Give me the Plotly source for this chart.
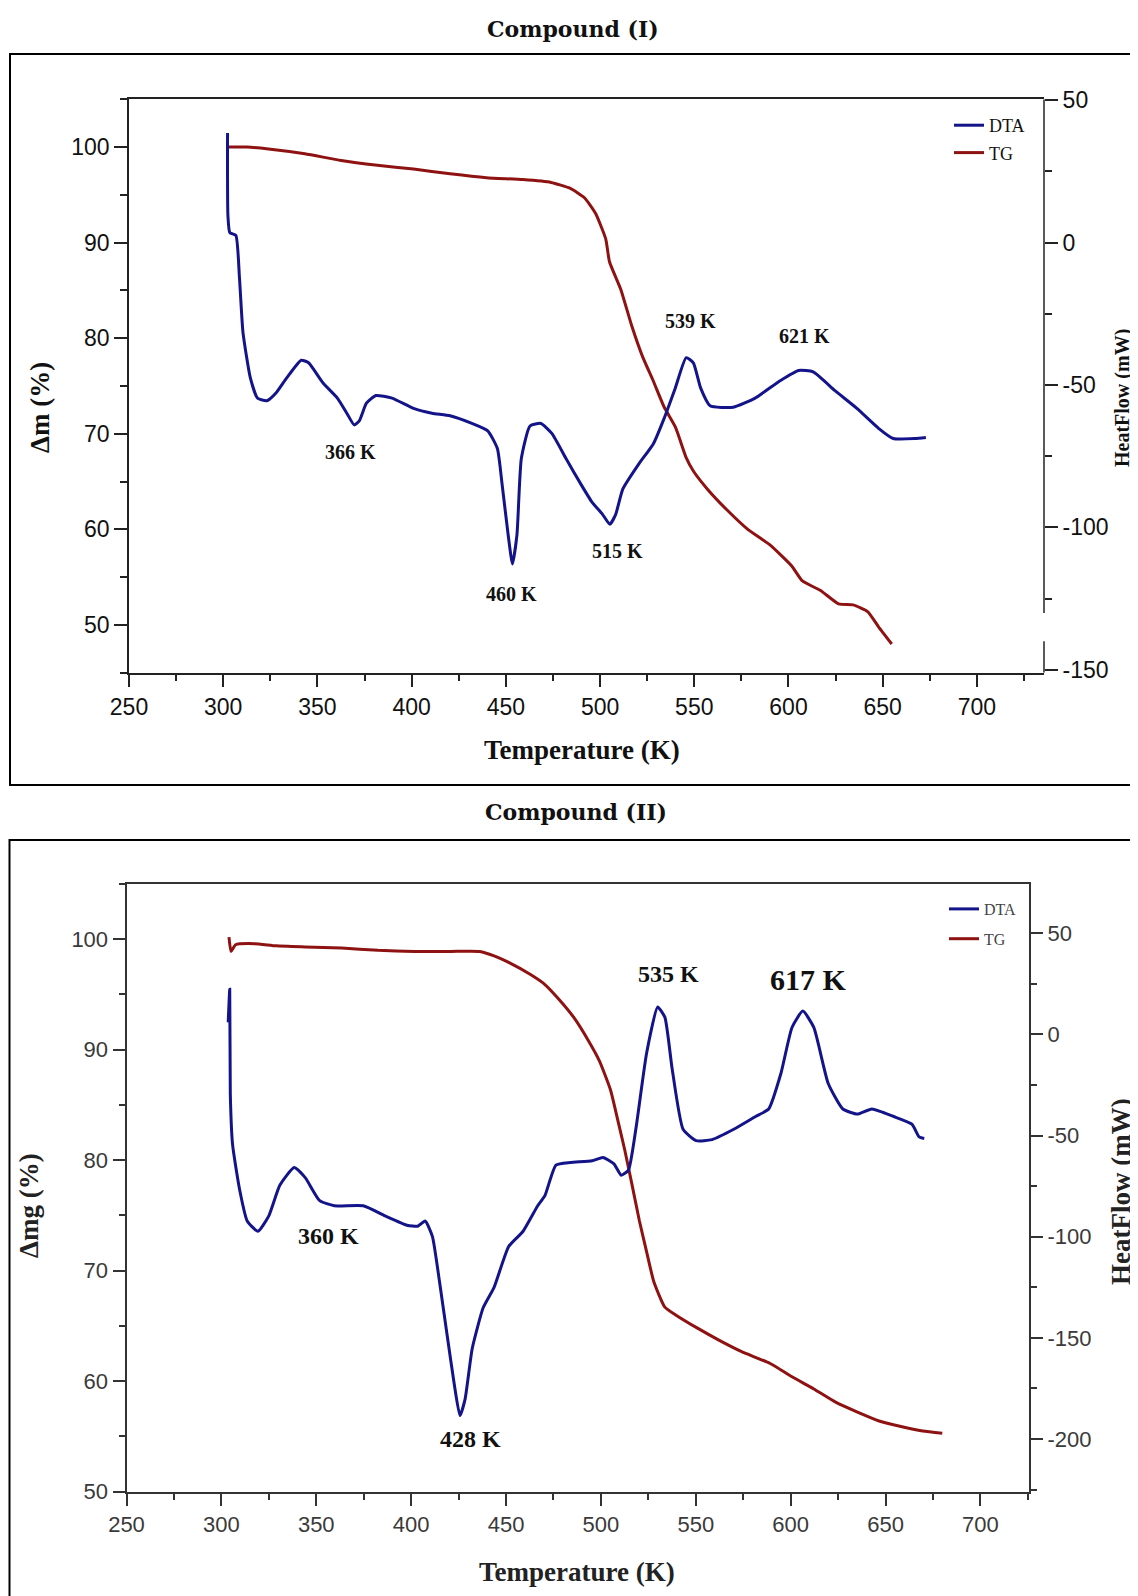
import plotly.graph_objects as go

# ---------------- Compound (I) ----------------
tg1_T = [302, 312.5, 324, 343.3, 362.6, 381.8, 401, 420.4, 439.7, 459, 474, 484, 491.7, 497.5,
         503, 505, 511, 516.8, 522.5, 528.3, 534, 540, 545.7, 549.5, 557, 567, 578.4, 590,
         601.6, 607.4, 617, 626.6, 634.3, 642, 647.8, 654.8]
tg1_m = [100, 100, 99.8, 99.3, 98.6, 98.1, 97.7, 97.2, 96.8, 96.6, 96.3, 95.7, 94.7, 93.1,
         90.4, 88.0, 85.1, 81.3, 78.1, 75.5, 72.8, 70.7, 67.5, 66.1, 64.2, 62.1, 60.0, 58.4,
         56.2, 54.6, 53.6, 52.2, 52.1, 51.4, 49.8, 48.0]

dta1_T = [302.3, 302.5, 303.5, 306.7, 308.6, 310.5, 314.4, 318.2, 323.2, 328, 333.7, 341.4,
          345.3, 353, 360.6, 365.6, 369.5, 372.2, 376, 381, 389.6, 401, 410.8, 420.4, 432,
          440.4, 445.5, 448, 451.2, 453.5, 455.9, 458.2, 462.8, 468.6, 474.4, 482, 489.8,
          495.6, 501.3, 505.2, 508.3, 512.1, 520.6, 528.3, 534, 539.9, 545.7, 549.5, 553.4,
          558.4, 570.7, 582.3, 595.8, 605.4, 613.1, 624.7, 636.3, 647.8, 655.6, 667.1, 672.9]
dta1_h = [38.5, 9.5, 3.5, 2.5, -12.1, -31.6, -47.5, -54.6, -55.5, -52.8, -47.5, -41.3,
          -42.2, -49.3, -54.6, -59.9, -64.0, -62.6, -56.4, -53.7, -54.6, -58.2, -59.9, -60.8, -63.5,
          -66.1, -72.3, -84.8, -102.5, -112.8, -102.5, -75.9, -64.4, -63.5, -67.0, -75.9, -84.8,
          -91.0, -95.4, -98.9, -95.4, -86.5, -77.7, -70.6, -61.7, -51.1, -40.4, -42.2, -51.1,
          -57.3, -57.8, -54.6, -48.4, -44.9, -45.4, -52.0, -58.2, -65.2, -68.8, -68.8, -68.4]

peak1_text = ["366 K", "460 K", "515 K", "539 K", "621 K"]
peak1_T = [367.6, 452.9, 509.5, 548.1, 608.6]
peak1_h = [-73.5, -123.5, -108.4, -27.5, -32.8]

# ---------------- Compound (II) ----------------
tg2_T = [304, 305.1, 307.5, 317.4, 328.9, 344.2, 363.3, 382.5, 401.6, 420.8, 436.1, 443.7,
         451.4, 462.9, 470.5, 478.2, 485.8, 493.5, 499.2, 505, 508.8, 512.6, 516.5, 520.3,
         524.1, 527.9, 533.7, 539.4, 550.9, 562.4, 573.9, 589.2, 600.7, 612.2, 623.7, 635.2,
         646.6, 658.1, 669.6, 679.9]
tg2_m = [100.2, 98.9, 99.5, 99.6, 99.4, 99.3, 99.2, 99.0, 98.9, 98.9, 98.9, 98.5,
         97.9, 96.8, 95.9, 94.5, 92.9, 90.8, 89.0, 86.4, 83.7, 80.9, 77.7, 74.5,
         71.7, 69.0, 66.7, 66.0, 64.8, 63.7, 62.7, 61.6, 60.4, 59.3, 58.1, 57.2,
         56.4, 55.9, 55.5, 55.3]

dta2_T = [303.6, 304.4, 304.7, 305.9, 309.7, 313.6, 319.3, 325, 330.8, 338.4, 344.2, 351.8,
          359.5, 374.8, 386.3, 397.8, 403.5, 407.4, 411.2, 415, 418.8, 422.7, 425.7, 428.4,
          432.2, 438, 443.7, 451.4, 459, 466.7, 470.5, 476.3, 483.9, 495.4, 501.1, 506.9,
          510.7, 514.5, 518.4, 524.1, 529.9, 533.7, 537.5, 543.3, 550.2, 558.6, 570, 581.5,
          588.4, 594.9, 600.7, 606.4, 612.2, 619.8, 627.5, 635.2, 642.8, 654.3, 663.9, 667.7,
          670.4]
dta2_h = [5.9, 22.3, -29.3, -54.5, -77.2, -92.2, -97.3, -89.7, -74.6, -65.8, -70.8, -82.2,
          -84.7, -84.7, -89.7, -94.3, -94.8, -92.2, -99.8, -122.5, -147.6, -172.8, -188.4, -180.4,
          -155.2, -135.0, -125.0, -104.8, -97.3, -84.7, -79.7, -64.6, -63.3, -62.5, -60.8, -64.0,
          -69.6, -67.1, -46.9, -9.2, 13.5, 8.5, -16.7, -46.9, -52.5, -52.0, -46.9, -40.6,
          -36.9, -19.2, 3.4, 11.5, 3.4, -24.3, -36.9, -39.4, -36.9, -40.6, -44.4, -50.7,
          -51.5]

peak2_text = ["360 K", "428 K", "535 K", "617 K"]
peak2_T = [356.4, 431.4, 535.4, 609.3]
peak2_h = [-99.8, -200, 29.9, 27.3]
peak2_size = [24, 24, 24, 30]

# tick labels
heat1_vals = [50, 0, -50, -100, -150]
heat1_text = ["50", "0", "-50", "-100", "-150"]
heat2_vals = [50, 0, -50, -100, -150, -200]
heat2_text = ["50", "0", "-50", "-100", "-150", "-200"]

DTA_COLOR = "#14148a"
TG_COLOR = "#8e1212"
W, H = 1138, 1596
OFF = 8  # page body margin compensation


def px(x):
    return (x - OFF) / W


def py(y):
    return 1 - (y - OFF) / H


line_dta = dict(color=DTA_COLOR, width=3, shape="spline", smoothing=0.5)
line_tg = dict(color=TG_COLOR, width=3, shape="spline", smoothing=0.5)

fig = go.Figure()
fig.add_trace(go.Scatter(x=dta1_T, y=dta1_h, mode="lines", name="DTA", xaxis="x", yaxis="y2",
                         line=line_dta, legend="legend", legendgroup="a"))
fig.add_trace(go.Scatter(x=tg1_T, y=tg1_m, mode="lines", name="TG", xaxis="x", yaxis="y",
                         line=line_tg, legend="legend", legendgroup="b"))
fig.add_trace(go.Scatter(x=dta2_T, y=dta2_h, mode="lines", name="DTA", xaxis="x2", yaxis="y4",
                         line=line_dta, legend="legend2", legendgroup="c"))
fig.add_trace(go.Scatter(x=tg2_T, y=tg2_m, mode="lines", name="TG", xaxis="x2", yaxis="y3",
                         line=line_tg, legend="legend2", legendgroup="d"))

tick_font1 = dict(family="Liberation Sans, Arial", size=23, color="#111")
tick_font2 = dict(family="Liberation Sans, Arial", size=22, color="#3a3a3a")
ax1 = dict(showline=True, linecolor="#222", linewidth=1.5, ticks="outside", ticklen=13,
           tickwidth=1.5, tickcolor="#222", showgrid=False, zeroline=False, tickfont=tick_font1)
ax2 = dict(showline=True, linecolor="#333", linewidth=2, ticks="outside", ticklen=12,
           tickwidth=2, tickcolor="#333", showgrid=False, zeroline=False, tickfont=tick_font2)

dom_x1 = [px(129), px(1044)]
dom_y1 = [py(672.7), py(99.3)]
dom_x2 = [px(126.5), px(1029)]
dom_y2 = [py(1491.7), py(884)]

fig.update_layout(
    width=W, height=H, margin=dict(l=0, r=0, t=0, b=0, autoexpand=False),
    paper_bgcolor="white", plot_bgcolor="white", showlegend=True,
    xaxis=dict(**ax1, domain=dom_x1, range=[250, 735.6], dtick=50, anchor="y", mirror=True,
               minor=dict(dtick=25, ticks="outside", ticklen=7, tickcolor="#222", tickwidth=1.5)),
    yaxis=dict(**ax1, domain=dom_y1, range=[45, 105], anchor="x", tickvals=[50, 60, 70, 80, 90, 100],
               minor=dict(dtick=5, ticks="outside", ticklen=7, tickcolor="#222", tickwidth=1.5)),
    yaxis2=dict(**{**ax1, "showline": False}, domain=dom_y1, range=[-151, 50.3], overlaying="y", side="right",
                anchor="x", tickvals=heat1_vals, ticktext=heat1_text,
                minor=dict(tickvals=[25, -25, -75, -125], ticks="outside", ticklen=7, tickcolor="#222", tickwidth=1.5)),
    xaxis2=dict(**ax2, domain=dom_x2, range=[250, 725.6], dtick=50, anchor="y3", mirror=True,
                minor=dict(dtick=25, ticks="outside", ticklen=6, tickcolor="#333", tickwidth=2)),
    yaxis3=dict(**ax2, domain=dom_y2, range=[50, 105], anchor="x2", tickvals=[50, 60, 70, 80, 90, 100],
                minor=dict(dtick=5, ticks="outside", ticklen=6, tickcolor="#333", tickwidth=2)),
    yaxis4=dict(**ax2, domain=dom_y2, range=[-226, 74.3], overlaying="y3", side="right", anchor="x2",
                tickvals=heat2_vals, ticktext=heat2_text,
                minor=dict(tickvals=[25, -25, -75, -125, -175, -225], ticks="outside", ticklen=6,
                           tickcolor="#333", tickwidth=2)),
    legend=dict(x=px(1030), xanchor="right", y=py(107), yanchor="top", bgcolor="rgba(0,0,0,0)",
                font=dict(family="Liberation Serif, Times New Roman", size=18, color="#111"),
                itemwidth=30, tracegroupgap=1),
    legend2=dict(x=px(1022), xanchor="right", y=py(892), yanchor="top", bgcolor="rgba(0,0,0,0)",
                 font=dict(family="Liberation Serif, Times New Roman", size=16, color="#444"),
                 itemwidth=30, tracegroupgap=6),
)

shapes = [
    # outer frames
    dict(type="rect", xref="paper", yref="paper", x0=px(10), x1=1.05, y0=py(785), y1=py(54),
         line=dict(color="black", width=2)),
    dict(type="rect", xref="paper", yref="paper", x0=px(9.5), x1=1.05, y0=-0.05, y1=py(840),
         line=dict(color="black", width=2)),
    # broken right axis of Compound (I)
    dict(type="line", xref="x domain", yref="y2", x0=1, x1=1, y0=50.3, y1=-130,
         line=dict(color="#222", width=1.5)),
    dict(type="line", xref="x domain", yref="y2", x0=1, x1=1, y0=-140, y1=-151,
         line=dict(color="#222", width=1.5)),
]
fig.update_layout(shapes=shapes)

ann = []
serif_b = "Liberation Serif, Times New Roman"
for txt, x, y in zip(peak1_text, peak1_T, peak1_h):
    ann.append(dict(text="<b>%s</b>" % txt, x=x, y=y, xref="x", yref="y2", showarrow=False,
                    font=dict(family=serif_b, size=20, color="#111")))
for txt, x, y, s in zip(peak2_text, peak2_T, peak2_h, peak2_size):
    ann.append(dict(text="<b>%s</b>" % txt, x=x, y=y, xref="x2", yref="y4", showarrow=False,
                    font=dict(family=serif_b, size=s, color="#111")))


def ptext(text, x, y, size, family=serif_b, angle=0, color="#111"):
    return dict(text=text, x=px(x), y=py(y), xref="paper", yref="paper", showarrow=False,
                textangle=angle, font=dict(family=family, size=size, color=color),
                xanchor="center", yanchor="middle")


ann += [
    ptext("<b>Compound (I)</b>", 572.5, 29, 22, family="DejaVu Serif"),
    ptext("<b>Compound (II)</b>", 575.8, 811.7, 22, family="DejaVu Serif"),
    ptext("<b>Temperature (K)</b>", 581.7, 750, 27),
    ptext("<b>Δm (%)</b>", 40, 407, 27, angle=-90),
    ptext("<b>HeatFlow (mW)</b>", 1122, 398, 20, angle=-90),
    ptext("<b>Temperature (K)</b>", 577, 1571.6, 27, color="#222"),
    ptext("<b>Δmg (%)</b>", 29, 1206, 27, angle=-90, color="#222"),
    ptext("<b>HeatFlow (mW)</b>", 1121, 1192, 27, angle=-90, color="#222"),
]
fig.update_layout(annotations=ann)

fig.write_html("out.html")
